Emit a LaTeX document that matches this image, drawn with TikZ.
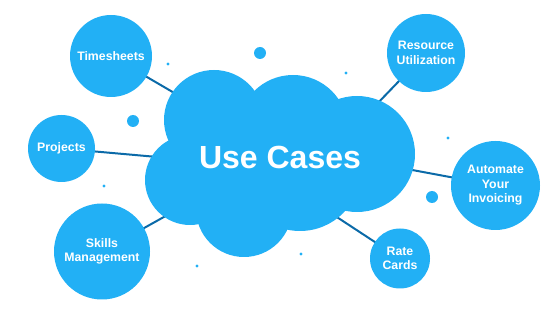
\documentclass[tikz,border=0pt]{standalone}
\usepackage{fontspec}
\setmainfont{Liberation Sans}
\usepackage{tikz}
\usetikzlibrary{backgrounds}
\definecolor{SkyFill}{HTML}{22B0F5}
\definecolor{LinkBlue}{HTML}{0B6AA8}

\tikzset{
  topic/.style={circle, fill=SkyFill, inner sep=0pt, text=white, align=center, font=\bfseries\fontsize{12.3}{14.5}\selectfont},
  link/.style={draw=LinkBlue, line width=2pt},
  lobe/.style={fill=SkyFill},
}

\begin{document}
\begin{tikzpicture}[x=1pt, y=-1pt]
  \useasboundingbox (0,0) rectangle (560,315);
  \node[topic, minimum size=82pt] (timesheets) at (111,56) {Timesheets};
  \node[topic, minimum size=67pt] (projects) at (61.5,148.5) {Projects};
  \node[topic, minimum size=96pt] (skills) at (102,251.5) {Skills\\Management};
  \node[topic, minimum size=78pt] (resource) at (426,53) {Resource\\Utilization};
  \node[topic, minimum size=89pt] (invoicing) at (495.5,185.5) {Automate\\Your\\Invoicing};
  \node[topic, minimum size=60pt] (ratecards) at (400,258.5) {Rate\\Cards};
  \coordinate (hubA) at (200,108);
  \coordinate (hubB) at (180,159);
  \coordinate (hubC) at (180,208);
  \coordinate (hubD) at (350,132);
  \coordinate (hubE) at (380,164);
  \coordinate (hubF) at (320,206);
  \begin{scope}[on background layer]
    \draw[link] (timesheets.center) -- (hubA);
    \draw[link] (projects.center) -- (hubB);
    \draw[link] (skills.center) -- (hubC);
    \draw[link] (resource.center) -- (hubD);
    \draw[link] (invoicing.center) -- (hubE);
    \draw[link] (ratecards.center) -- (hubF);
  \end{scope}
  \fill[lobe] (214,120) circle (50);
  \fill[lobe] (293,130) circle (55);
  \fill[lobe] (357,154) circle (58);
  \fill[lobe] (244,209) circle (48);
  \fill[lobe] (190,180) circle (45);
  \fill[lobe] (300,170) circle (61);
  \fill[lobe] (270,160) circle (60);
  \node[inner sep=0pt, text=white, font=\bfseries\fontsize{32}{38}\selectfont] (usecases) at (280,157) {Use Cases};
  \fill[lobe] (260,53) circle (6);
  \fill[lobe] (133,121) circle (6);
  \fill[lobe] (432,197) circle (6);
  \fill[lobe] (168,64) circle (1.6);
  \fill[lobe] (346,73) circle (1.6);
  \fill[lobe] (448,138) circle (1.6);
  \fill[lobe] (104,186) circle (1.6);
  \fill[lobe] (197,266) circle (1.6);
  \fill[lobe] (301,254) circle (1.6);
\end{tikzpicture}
\end{document}
